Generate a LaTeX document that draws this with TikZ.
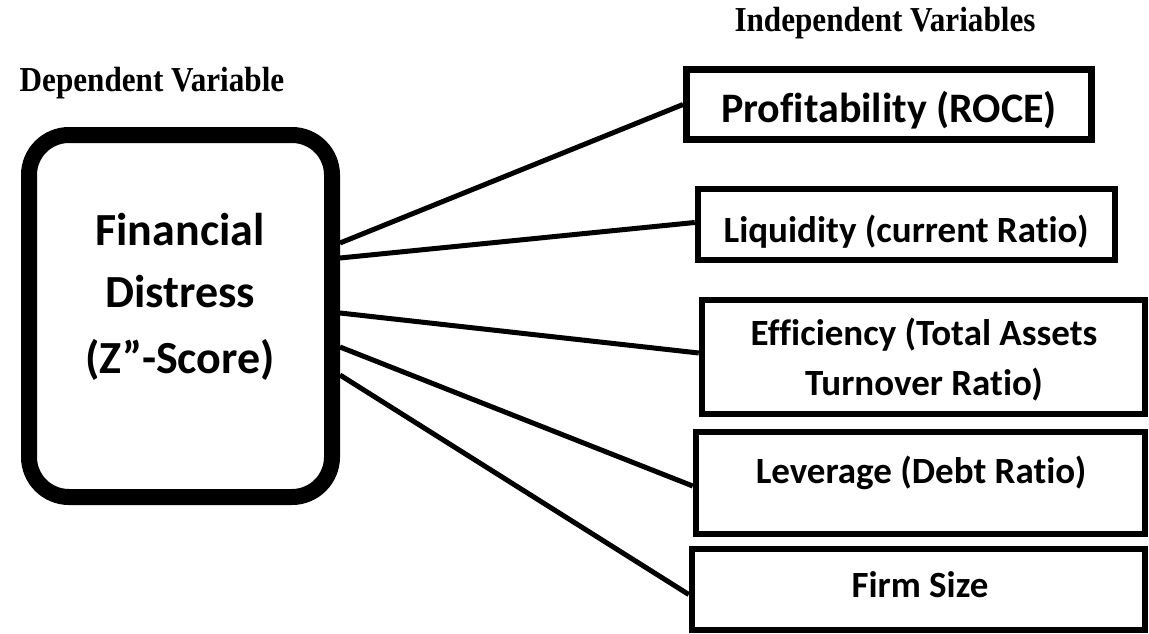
\documentclass[tikz,border=0pt]{standalone}
\usepackage{fontspec}
\setmainfont{Liberation Serif}
\newfontfamily\calfont[Ligatures=NoCommon]{Carlito}
\usetikzlibrary{calc}
\begin{document}
\begin{tikzpicture}[x=1pt,y=-1pt,
  title/.style={font=\bfseries\fontsize{35}{38}\selectfont, anchor=base, xscale=0.89},
  varbox/.style={draw, line width=6.5pt, inner sep=0pt},
  bigtxt/.style={font=\calfont\bfseries\fontsize{46}{50}\selectfont, anchor=base},
  boxtxt/.style={font=\calfont\bfseries\fontsize{37}{40}\selectfont, anchor=base},
  conn/.style={line width=5pt}]
\useasboundingbox (0,0) rectangle (1149,634);
% titles
\node[title] (tin) at (885,32) {Independent Variables};
\node[title] (tdep) at (152,92) {Dependent Variable};
% dependent variable box
\node[draw, line width=16pt, rounded corners=40pt, minimum width=303pt, minimum height=362pt, inner sep=0pt] (fd) at (180.5,316) {};
\node[bigtxt] (fd1) at (180,245) {Financial};
\node[bigtxt] (fd2) at (180,307) {Distress};
\node[bigtxt] (fd3) at (180,373) {(Z”-Score)};
% independent variable boxes
\node[varbox, line width=7pt, minimum width=405pt, minimum height=70pt] (b1) at (889,104.5) {};
\node[varbox, minimum width=417pt, minimum height=71pt] (b2) at (906.5,224.5) {};
\node[varbox, minimum width=443pt, minimum height=114pt] (b3) at (923.5,357) {};
\node[varbox, minimum width=449pt, minimum height=102pt] (b4) at (920.5,483) {};
\node[varbox, minimum width=453pt, minimum height=81pt] (b5) at (918.5,589.5) {};
\node[boxtxt, font=\calfont\bfseries\fontsize{42}{44}\selectfont] (l1) at (889,122) {Profitability (ROCE)};
\node[boxtxt] (l2) at (906,242) {Liquidity (current Ratio)};
\node[boxtxt] (l3a) at (924,345) {Efficiency (Total Assets};
\node[boxtxt] (l3b) at (924,395) {Turnover Ratio)};
\node[boxtxt] (l4) at (921,483) {Leverage (Debt Ratio)};
\node[boxtxt] (l5) at (920,597) {Firm Size};
% connector start points on the dependent box
\coordinate (s1) at ($(fd.east)+(0,-73)$);
\coordinate (s2) at ($(fd.east)+(0,-58)$);
\coordinate (s3) at ($(fd.east)+(0,-3)$);
\coordinate (s4) at ($(fd.east)+(0,31)$);
\coordinate (s5) at ($(fd.east)+(0,59)$);
\draw[conn] (s1) -- (b1.west);
\draw[conn] (s2) -- ($(b2.west)+(0,-2)$);
\draw[conn] (s3) -- ($(b3.west)+(0,-4)$);
\draw[conn] (s4) -- ($(b4.west)+(0,3)$);
\draw[conn] (s5) -- ($(b5.west)+(0,5)$);
\end{tikzpicture}
\end{document}
